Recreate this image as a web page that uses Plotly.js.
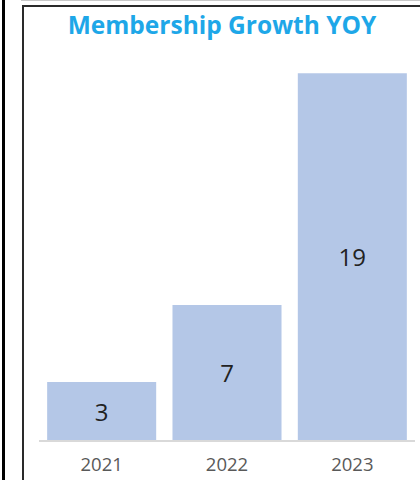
<!DOCTYPE html>
<html>
<head>
<meta charset="utf-8">
<script src="https://cdn.plot.ly/plotly-3.0.1.min.js"></script>
<style>
  html, body { margin: 0; padding: 0; background: #ffffff; }
  #wrap { position: relative; width: 420px; height: 480px; overflow: hidden; }
  #chart { position: absolute; left: 0; top: 0; width: 420px; height: 480px; }
  .deco { position: absolute; pointer-events: none; }
</style>
</head>
<body>
<div id="wrap">
  <div id="chart"></div>
  <div class="deco" style="left:2px; top:0; width:3px; height:480px; background:#000;"></div>
  <div class="deco" style="left:21px; top:0; width:399px; height:1px; background:#c8c8c8;"></div>
  <div class="deco" style="left:22px; top:5px; width:398px; height:2px; background:#2a2a2a;"></div>
  <div class="deco" style="left:22px; top:5px; width:2px; height:475px; background:#2a2a2a;"></div>
</div>
<script>
const years = ['2021', '2022', '2023'];
const members = [3, 7, 19];
const chartTitle = 'Membership Growth YOY';

const trace = {
  type: 'bar',
  x: years,
  y: members,
  text: members.map(String),
  textposition: 'inside',
  insidetextanchor: 'middle',
  textangle: 0,
  textfont: { family: 'Open Sans, sans-serif', size: 24, color: '#222222' },
  marker: { color: '#b4c7e7', line: { width: 0 } },
  hoverinfo: 'none'
};

const layout = {
  width: 420,
  height: 480,
  margin: { l: 39, r: 5, t: 54, b: 40, pad: 0 },
  paper_bgcolor: 'rgba(0,0,0,0)',
  plot_bgcolor: 'rgba(0,0,0,0)',
  bargap: 0.13,
  showlegend: false,
  title: {
    text: chartTitle,
    font: { family: 'Open Sans, sans-serif', size: 24.5, color: '#1ea7e8', weight: 'bold' },
    xref: 'container', x: 0.5286, xanchor: 'center',
    yref: 'container', y: 0.948, yanchor: 'middle'
  },
  xaxis: {
    type: 'category',
    showline: true,
    linecolor: '#d9d9d9',
    linewidth: 1.5,
    ticks: '',
    tickfont: { family: 'Open Sans, sans-serif', size: 18.5, color: '#595959' },
    ticklabelstandoff: 7,
    showgrid: false,
    zeroline: false
  },
  yaxis: {
    range: [0, 20],
    visible: false,
    showgrid: false,
    zeroline: false
  }
};

Plotly.newPlot('chart', [trace], layout, { displayModeBar: false, staticPlot: true });
</script>
</body>
</html>
